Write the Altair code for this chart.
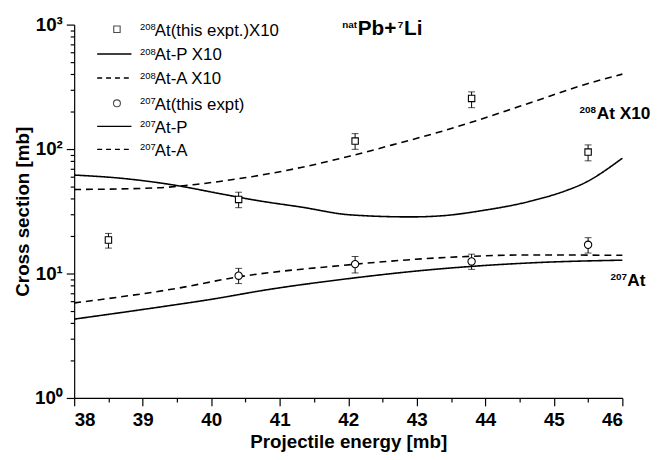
import altair as alt
import pandas as pd

# ---- data ----
sq_E = [38.5, 40.4, 42.1, 43.8, 45.5]
sq_V = [18.6, 39.4, 116, 255, 94.6]
sq_lo = [16.0, 33.8, 99.5, 215, 80.4]
sq_hi = [21.0, 45.0, 133, 288, 108]

ci_E = [40.4, 42.1, 43.8, 45.5]
ci_V = [9.6, 11.9, 12.5, 17.0]
ci_lo = [8.3, 10.1, 10.8, 14.6]
ci_hi = [11.0, 13.7, 14.3, 19.4]

p208_E = [38.0, 38.65, 39.51, 40.09, 40.67, 41.31, 42.03, 42.9, 43.33, 43.98, 44.7, 45.18, 45.42, 46.0]
p208_V = [61.8, 58.5, 50.8, 44.2, 38.6, 34.2, 29.6, 28.5, 29.0, 32.2, 38.6, 46.4, 52.5, 84.4]

a208_E = [38.0, 39.22, 39.84, 40.59, 41.31, 42.03, 42.75, 43.33, 43.98, 44.7, 45.42, 46.0]
a208_V = [47.3, 48.8, 52.5, 60.0, 71.1, 88, 112, 137, 177, 240, 326, 400]

p207_E = [38.0, 39.37, 40.0, 40.81, 41.9, 43.26, 44.7, 46.0]
p207_V = [4.3, 5.5, 6.2, 7.4, 8.95, 10.8, 12.2, 12.8]

a207_E = [38.0, 39.5, 40.4, 41.9, 43.26, 44.7, 46.0]
a207_V = [5.8, 7.6, 9.4, 11.6, 13.3, 14.1, 14.0]

x_ticks = [38 + 0.5 * i for i in range(17)]
y_ticks = [m * 10 ** e for e in range(3) for m in range(1, 10)] + [1000]

legend_labels = ["At(this expt.)X10", "At-P X10", "At-A X10", "At(this expt)", "At-P", "At-A"]
legend_sups = ["208", "208", "208", "207", "207", "207"]
legend_kinds = ["square", "solid", "dash", "circle", "solid", "dash"]

FONT = "Liberation Sans"

x_enc = alt.X("E:Q", scale=alt.Scale(domain=[38, 46], nice=False, zero=False),
              axis=alt.Axis(values=x_ticks, title="Projectile energy [mb]",
                            labelExpr="datum.value % 1 == 0 ? format(datum.value, 'd') : ''",
                            tickSize={"condition": {"test": "datum.value % 1 == 0", "value": 8}, "value": 4},
                            labelPadding=5, titlePadding=3, grid=False))
y_enc = alt.Y("V:Q", scale=alt.Scale(type="log", domain=[1, 1000], nice=False),
              axis=alt.Axis(values=y_ticks, title="Cross section [mb]",
                            labelExpr="datum.value == 1 ? '10⁰' : datum.value == 10 ? '10¹' : datum.value == 100 ? '10²' : datum.value == 1000 ? '10³' : ''",
                            tickSize={"condition": {"test": "datum.value == 1 || datum.value == 10 || datum.value == 100 || datum.value == 1000", "value": 8}, "value": 4},
                            labelPadding=4, titlePadding=2, grid=False))


def line(E, V, dash):
    df = pd.DataFrame({"E": E, "V": V})
    mk = alt.Chart(df).mark_line(color="black", strokeWidth=1.6, interpolate="monotone",
                                 strokeDash=dash if dash else [1, 0])
    return mk.encode(x=x_enc, y=y_enc)


def points(E, V, lo, hi, shape, size):
    df = pd.DataFrame({"E": E, "V": V, "lo": lo, "hi": hi})
    base = alt.Chart(df)
    bars = base.mark_rule(color="black", strokeWidth=1).encode(x=x_enc, y=alt.Y("lo:Q"), y2="hi:Q")
    cap_lo = base.mark_tick(color="black", orient="horizontal", size=7, thickness=1).encode(x=x_enc, y=alt.Y("lo:Q"))
    cap_hi = base.mark_tick(color="black", orient="horizontal", size=7, thickness=1).encode(x=x_enc, y=alt.Y("hi:Q"))
    pts = base.mark_point(shape=shape, size=size, filled=False, fill="white", fillOpacity=1,
                          stroke="black", strokeWidth=1.1, opacity=1).encode(x=x_enc, y=y_enc)
    return bars + cap_lo + cap_hi + pts


layers = [
    line(p208_E, p208_V, None),
    line(a208_E, a208_V, [7, 5]),
    line(p207_E, p207_V, None),
    line(a207_E, a207_V, [7, 5]),
    points(sq_E, sq_V, sq_lo, sq_hi, "square", 42),
    points(ci_E, ci_V, ci_lo, ci_hi, "circle", 55),
]

# ---- legend (pixel positions inside the plot area) ----
rows = [4.7, 29.7, 54.0, 79.7, 103.0, 126.3]
one = pd.DataFrame({"k": [0]})
for i, r in enumerate(rows):
    kind = legend_kinds[i]
    if kind in ("square", "circle"):
        layers.append(alt.Chart(one).mark_point(shape=kind, size=42 if kind == "square" else 50, filled=False,
                                                 stroke="black", strokeWidth=1.1)
                      .encode(x=alt.value(43.3), y=alt.value(r)))
    else:
        layers.append(alt.Chart(one).mark_rule(color="black", strokeWidth=1.4,
                                                strokeDash=[1, 0] if kind == "solid" else [5, 4])
                      .encode(x=alt.value(23.3), x2=alt.value(58.0), y=alt.value(r)))
    layers.append(alt.Chart(one).mark_text(text=legend_sups[i], font=FONT, fontSize=9.5, align="left",
                                           baseline="alphabetic", color="black")
                  .encode(x=alt.value(66.7), y=alt.value(r + 1)))
    layers.append(alt.Chart(one).mark_text(text=legend_labels[i], font=FONT, fontSize=17, align="left",
                                           baseline="alphabetic", color="black")
                  .encode(x=alt.value(81.7), y=alt.value(r + 6.5)))

# ---- title and curve labels ----
texts = [
    ("nat", 271.5, 3.5, 10),
    ("Pb+", 287.0, 11.0, 21),
    ("7", 327.5, 3.5, 10),
    ("Li", 334.0, 11.0, 21),
    ("208", 511.7, 90.0, 10),
    ("At X10", 529.0, 96.0, 17.5),
    ("207", 543.0, 259.0, 10),
    ("At", 560.0, 264.7, 17.5),
]
for t, px, py, fs in texts:
    layers.append(alt.Chart(one).mark_text(
        text=t, font=FONT, fontSize=fs, fontWeight="bold", align="left", baseline="alphabetic", color="black")
        .encode(x=alt.value(px), y=alt.value(py)))

chart = alt.layer(*layers).properties(
    width=555, height=378,
    autosize=alt.AutoSizeParams(type="none"),
    padding={"left": 67, "top": 14, "right": 29, "bottom": 60},
).configure_view(stroke=None).configure_axis(
    domainColor="black", tickColor="black", domainWidth=1.2, tickWidth=1.2,
    labelFont=FONT, labelFontSize=19, labelFontWeight="bold", labelColor="black",
    titleFont=FONT, titleFontSize=19, titleFontWeight="bold", titleColor="black",
)

chart.save("out.html", embed_options={"renderer": "svg", "actions": False})
